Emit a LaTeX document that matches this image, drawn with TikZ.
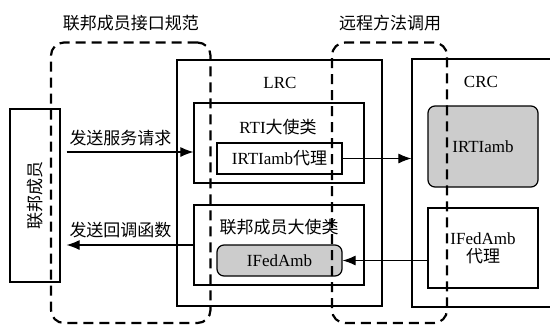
\documentclass[tikz,border=0pt]{standalone}
\usepackage{fontspec}
\setmainfont{Liberation Serif}
\newfontfamily\cjk{Noto Sans CJK SC}
\usetikzlibrary{arrows.meta}
\begin{document}
\begin{tikzpicture}[x=1pt,y=-1pt,
  box/.style={draw,line width=1.2pt,inner sep=0pt,font=\fontsize{17}{20}\selectfont},
  gbox/.style={box,fill=gray!40,rounded corners=7pt},
  dbox/.style={draw,line width=2.2pt,dash pattern=on 10pt off 6pt,rounded corners=13pt,inner sep=0pt},
  lab/.style={inner sep=0pt,font=\fontsize{17}{20}\selectfont},
  arr/.style={line width=1.1pt,-{Latex[length=13pt,width=10pt]}}]
\useasboundingbox (0,0) rectangle (550,325);
\clip (0,0) rectangle (550,325);
% boxes
\node[box,minimum width=50pt,minimum height=173pt] (fed) at (35,195.5) {};
\node[lab,rotate=90] (fedlab) at (fed.center) {\cjk 联邦成员};
\node[box,minimum width=205pt,minimum height=246pt] (lrc) at (279.5,183) {};
\node[box,minimum width=170pt,minimum height=80pt] (rti) at (279,143) {};
\node[box,minimum width=125pt,minimum height=31pt] (irtip) at (279.5,158.5) {IRTIamb{\cjk 代理}};
\node[box,minimum width=170pt,minimum height=80pt] (fac) at (279,245) {};
\node[gbox,minimum width=125pt,minimum height=31pt] (ifa) at (279.5,260.5) {IFedAmb};
\node[box,minimum width=150pt,minimum height=248pt] (crc) at (487,183) {};
\node[gbox,minimum width=110pt,minimum height=81pt] (irti) at (483,146.5) {IRTIamb};
\node[box,minimum width=110pt,minimum height=80pt,align=center] (ifp) at (483,248) {IFedAmb\\[-2pt]{\cjk 代理}};
% labels
\node[lab] (t1) at (131,23) {\cjk 联邦成员接口规范};
\node[lab] (t2) at (390,23) {\cjk 远程方法调用};
\node[lab] (lrclab) at (280,83) {LRC};
\node[lab] (crclab) at (481,82) {CRC};
\node[lab] (rtilab) at (278,127) {RTI{\cjk 大使类}};
\node[lab] (faclab) at (279,227) {\cjk 联邦成员大使类};
\node[lab] (req) at (120.5,138) {\cjk 发送服务请求};
\node[lab] (cb) at (120.5,230) {\cjk 发送回调函数};
% connectors
\coordinate (a1) at ([yshift=-9pt]rti.west);
\draw[arr,shorten <=6pt] (fed.east |- a1) -- (a1);
\draw[arr,shorten >=6pt] (fac.west) -- (fac.west -| fed.east);
\draw[arr] (irtip.east) -- (irtip.east -| crc.west);
\draw[arr] (ifp.west |- ifa.east) -- (ifa.east);
% dashed regions
\node[dbox,minimum width=159.5pt,minimum height=280.5pt] (iface) at (130.75,182.75) {};
\node[dbox,minimum width=115pt,minimum height=280.5pt] (rmi) at (389.5,182.75) {};
\end{tikzpicture}
\end{document}
